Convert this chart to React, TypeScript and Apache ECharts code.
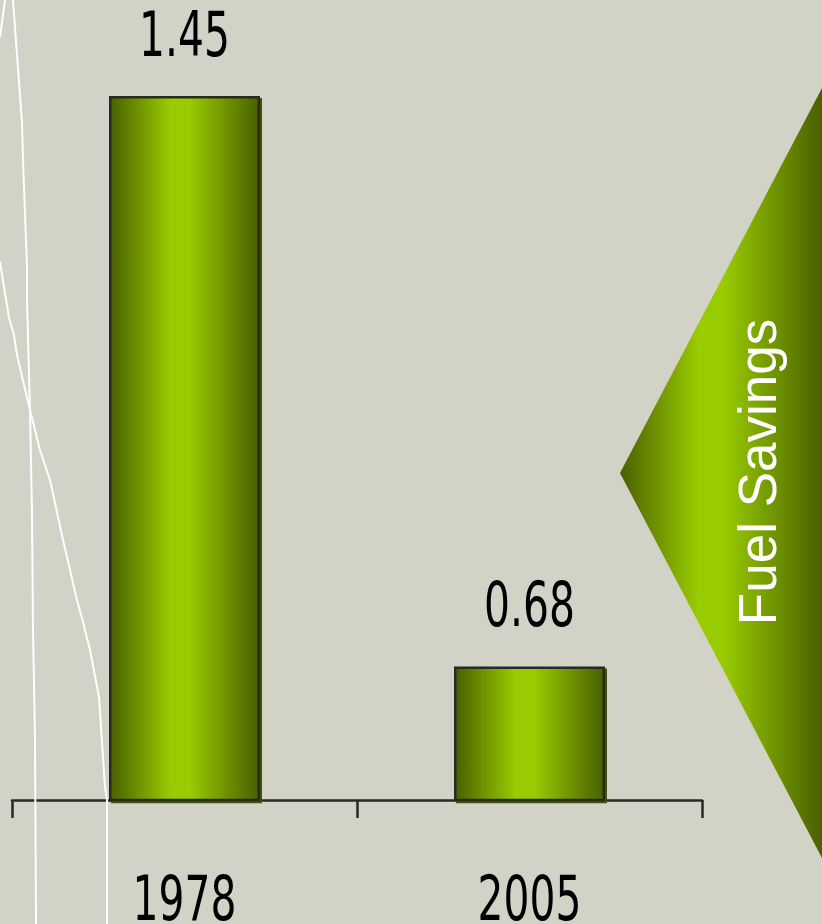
import React, { useEffect, useRef } from "react";
import * as echarts from "echarts";

const categories = ["1978", "2005"];
const values = [1.45, 0.68];
const valueLabels = ["1.45", "0.68"];
const calloutText = "Fuel Savings";

const BG = "#d2d2c7";
const DARK = "#262a22";
const GREEN_DARK = "#4a6000";
const GREEN_LIGHT = "#99cc00";
const NUM_FONT = "'DejaVu Sans Condensed', 'DejaVu Sans', sans-serif";

const decoLines: number[][][] = [
  [[0, 37], [5, 0]],
  [[13, 0], [22, 123], [23, 160], [27, 267], [27, 300], [30, 410], [32, 513], [33, 630], [35, 740], [36, 924]],
  [[0, 262], [9, 318], [14, 335], [17, 355], [30, 410], [40, 450], [50, 480], [63, 540], [77, 600], [83, 622], [90, 650], [99, 697], [105, 787], [107, 800], [107, 924]],
];

function hGrad(a: string, b: string, peak: number) {
  return new echarts.graphic.LinearGradient(0, 0, 1, 0, [
    { offset: 0, color: a },
    { offset: peak - 0.06, color: b },
    { offset: peak + 0.06, color: b },
    { offset: 1, color: a },
  ]);
}

function numText(x: number, y: number, text: string) {
  return {
    type: "text",
    z: 5,
    x,
    y,
    scaleX: 0.72,
    style: {
      text,
      fill: "#000",
      fontFamily: NUM_FONT,
      fontSize: 63,
      lineHeight: 46,
      align: "center",
      verticalAlign: "middle",
    },
    silent: true,
  };
}

export default function App() {
  const ref = useRef<HTMLDivElement>(null);
  useEffect(() => {
    document.body.style.margin = "0";
    const chart = echarts.init(ref.current!, undefined, { renderer: "svg" });
    const baseGraphic: any[] = [
      ...decoLines.map((pts) => ({
        type: "polyline",
        z: 1,
        shape: { points: pts },
        style: { stroke: "#ffffff", lineWidth: 2, fill: null },
        silent: true,
      })),
      {
        type: "polygon",
        z: 2,
        shape: { points: [[620, 473], [822, 88], [822, 858]] },
        style: { fill: hGrad(GREEN_DARK, GREEN_LIGHT, 0.45) },
        silent: true,
      },
      {
        type: "text",
        z: 3,
        x: 757,
        y: 472,
        rotation: Math.PI / 2,
        style: {
          text: calloutText,
          fill: "#ffffff",
          fontFamily: "'Liberation Sans', Arial, sans-serif",
          fontSize: 53,
          align: "center",
          verticalAlign: "middle",
        },
        silent: true,
      },
    ];
    chart.setOption({
      animation: false,
      backgroundColor: BG,
      grid: { left: 12, right: 120, top: 59, bottom: 124, containLabel: false },
      xAxis: {
        type: "category",
        data: categories,
        boundaryGap: true,
        axisLine: { show: true, lineStyle: { color: DARK, width: 2.5 } },
        axisTick: { show: true, length: 18, lineStyle: { color: DARK, width: 2.5 } },
        axisLabel: { show: false },
      },
      yAxis: {
        type: "value",
        min: 0.5,
        max: 1.5,
        show: false,
        splitLine: { show: false },
      },
      series: [
        {
          type: "bar",
          data: values,
          barWidth: 151,
          z: 3,
          itemStyle: {
            color: hGrad(GREEN_DARK, GREEN_LIGHT, 0.47),
            borderColor: DARK,
            borderWidth: 2.5,
            shadowColor: "#3f5200",
            shadowOffsetX: 2,
            shadowOffsetY: 2,
            shadowBlur: 0,
          },
          label: { show: false },
        },
      ],
      graphic: baseGraphic,
    });
    const axisY = chart.convertToPixel({ yAxisIndex: 0 }, 0.5) as number;
    const labels: any[] = [];
    values.forEach((v, i) => {
      const p = chart.convertToPixel({ seriesIndex: 0 }, [i, v]) as number[];
      labels.push(numText(p[0], p[1] - 40 - 22, valueLabels[i]));
    });
    categories.forEach((c) => {
      const x = chart.convertToPixel({ xAxisIndex: 0 }, c) as number;
      labels.push(numText(x, axisY + 120 - 22, c));
    });
    chart.setOption({ graphic: [...baseGraphic, ...labels] });
    return () => chart.dispose();
  }, []);
  return (
    <div
      ref={ref}
      style={{ position: "absolute", left: 0, top: 0, width: 822, height: 924, background: BG }}
    />
  );
}
